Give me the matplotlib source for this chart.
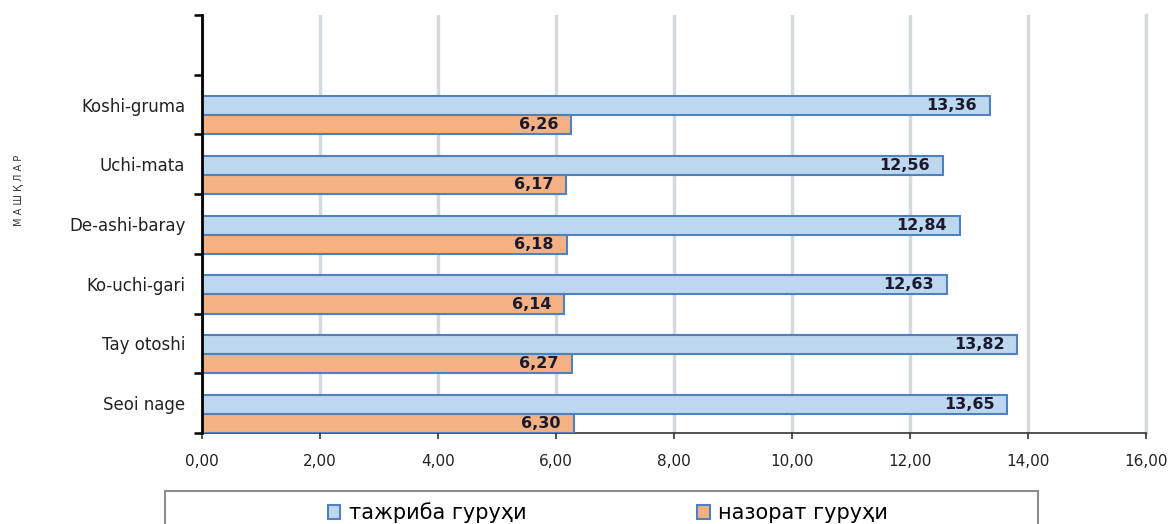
"""
Horizontal bar chart: experiment vs control group per throw.
"""

import numpy as np
import matplotlib
matplotlib.use("Agg")
import matplotlib.pyplot as plt
from matplotlib.patches import Rectangle

plt.rcParams["font.family"] = ["DejaVu Sans"]

# data (bottom to top, top slot is empty in the original)
categories = ["Seoi nage", "Tay otoshi", "Ko-uchi-gari", "De-ashi-baray",
              "Uchi-mata", "Koshi-gruma", ""]
experiment = [13.65, 13.82, 12.63, 12.84, 12.56, 13.36]
control = [6.30, 6.27, 6.14, 6.18, 6.17, 6.26]
series_names = ["тажриба гуруҳи", "назорат гуруҳи"]
x_ticks = np.arange(0, 17, 2)

# style
blue = "#bdd7ee"
orange = "#f4b183"
edge = "#4f81bd"
bar_h = 0.32

fig = plt.figure(figsize=(11.75, 5.24), dpi=100)
ax = fig.add_axes([202 / 1175, 1 - 433 / 524, 944 / 1175, 418 / 524])

y = np.arange(len(experiment))
b1 = ax.barh(y - 0.02, experiment, height=bar_h, color=blue,
             edgecolor=edge, linewidth=1.5, label=series_names[0], zorder=3)
b2 = ax.barh(y - 0.34, control, height=bar_h, color=orange,
             edgecolor=edge, linewidth=1.5, label=series_names[1], zorder=3)

# value labels inside the bar ends
for bars in (b1, b2):
    for rect in bars:
        w = rect.get_width()
        ax.text(w - 0.22, rect.get_y() + rect.get_height() / 2,
                f"{w:.2f}".replace(".", ","), ha="right", va="center",
                fontsize=11.5, fontweight="bold", color="#1a1a2e", zorder=4)

# axes
ax.set_xlim(0, 16)
ax.set_ylim(-0.5, len(categories) - 0.5)
ax.set_xticks(x_ticks)
ax.set_xticklabels([f"{v:.2f}".replace(".", ",") for v in x_ticks],
                   fontsize=11, color="#222222")
ax.tick_params(axis="x", length=4, width=1.2, color="#333333", pad=11)

ax.set_yticks(np.arange(-0.5, len(categories), 1.0))
ax.set_yticklabels([])
ax.set_yticks(np.arange(len(categories)), minor=True)
ax.set_yticklabels(categories, minor=True, fontsize=12, color="#222222")
ax.tick_params(axis="y", which="major", length=6, width=1.8, color="black")
ax.tick_params(axis="y", which="minor", length=0, pad=12)

ax.grid(axis="x", color="#d6d9dd", linewidth=2.5, zorder=0)
ax.axvline(16, color="#d6d9dd", linewidth=2.5, zorder=0, clip_on=False)
ax.set_axisbelow(True)
for s in ("top", "right"):
    ax.spines[s].set_visible(False)
ax.spines["left"].set_linewidth(2)
ax.spines["left"].set_zorder(5)
ax.spines["bottom"].set_color("#333333")
ax.spines["bottom"].set_linewidth(1.2)

fig.text(18 / 1175, 1 - 190 / 524, "М А Ш Қ Л А Р", rotation=90,
         ha="center", va="center", fontsize=7, color="#333333")

# legend with a framed box running off the bottom edge
fig.patches.append(Rectangle((165 / 1175, 1 - 532 / 524), 873 / 1175, 41 / 524,
                             transform=fig.transFigure, fill=False,
                             edgecolor="#8c8c8c", linewidth=1.5))
fig.legend(handles=[b1, b2], loc="center", bbox_to_anchor=(608 / 1175, 1 - 513 / 524),
           ncol=2, frameon=False, fontsize=15, handlelength=0.6, handleheight=0.6,
           handletextpad=0.4, columnspacing=8.2)

fig.savefig("out.png", dpi=100)
